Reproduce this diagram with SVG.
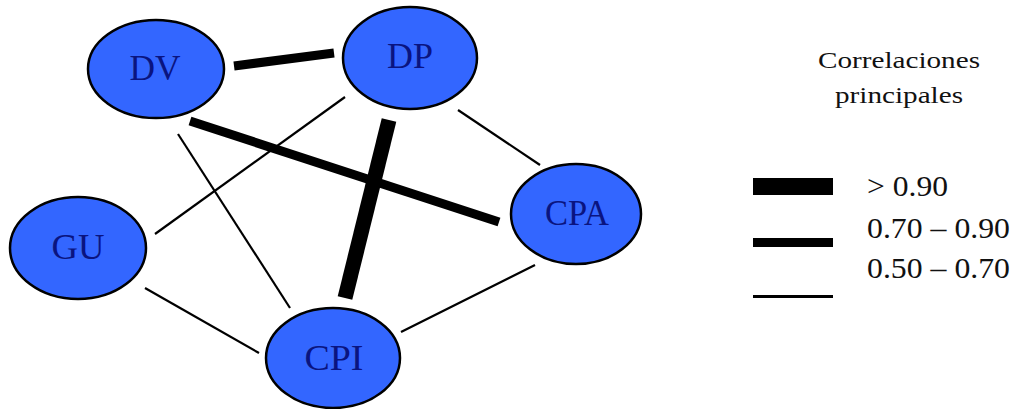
<svg xmlns="http://www.w3.org/2000/svg" width="1016" height="409" viewBox="0 0 1016 409">
<style>
.node ellipse{fill:#3366FF;stroke:#000;stroke-width:2.5}
.node text{font-family:"Liberation Serif","DejaVu Serif",serif;font-size:35px;fill:#0A1480;text-anchor:middle}
.c{stroke:#000;fill:none}
.thin{stroke-width:2.2}
.med{stroke-width:9}
.thick{stroke-width:15}
.lg{font-family:"Liberation Serif","DejaVu Serif",serif;fill:#111}
</style>
<rect width="1016" height="409" fill="#fff"/>
<g id="connectors">
<line class="c med" x1="234" y1="66" x2="334" y2="53"/>
<line class="c med" x1="190" y1="121" x2="499" y2="222"/>
<line class="c thick" x1="389" y1="120" x2="345" y2="298"/>
<line class="c thin" x1="345" y1="97" x2="155" y2="234"/>
<line class="c thin" x1="178" y1="134" x2="290" y2="308"/>
<line class="c thin" x1="458" y1="110" x2="540" y2="165"/>
<line class="c thin" x1="145" y1="288" x2="259" y2="353"/>
<line class="c thin" x1="535" y1="265" x2="401" y2="332"/>
</g>
<g id="DV" class="node"><ellipse cx="156" cy="69" rx="68" ry="49"/><text x="155" y="80" textLength="51" lengthAdjust="spacingAndGlyphs">DV</text></g>
<g id="DP" class="node"><ellipse cx="410" cy="58" rx="67" ry="51"/><text x="410" y="68" textLength="46" lengthAdjust="spacingAndGlyphs">DP</text></g>
<g id="GU" class="node"><ellipse cx="78" cy="248" rx="68" ry="51"/><text x="78" y="259" textLength="53" lengthAdjust="spacingAndGlyphs">GU</text></g>
<g id="CPA" class="node"><ellipse cx="576" cy="214" rx="65" ry="50"/><text x="577" y="225" textLength="64" lengthAdjust="spacingAndGlyphs">CPA</text></g>
<g id="CPI" class="node"><ellipse cx="333" cy="358" rx="67" ry="50"/><text x="334" y="370" textLength="59" lengthAdjust="spacingAndGlyphs">CPI</text></g>
<g id="legend">
<text class="lg" x="818" y="68" font-size="24" textLength="162" lengthAdjust="spacingAndGlyphs">Correlaciones</text>
<text class="lg" x="835" y="103" font-size="24" textLength="128" lengthAdjust="spacingAndGlyphs">principales</text>
<rect x="753" y="178" width="80" height="17" fill="#000"/>
<rect x="753" y="238" width="80" height="9" fill="#000"/>
<rect x="753" y="295" width="80" height="3" fill="#000"/>
<text class="lg" x="867" y="196" font-size="29" textLength="81" lengthAdjust="spacingAndGlyphs">&gt; 0.90</text>
<text class="lg" x="867" y="238" font-size="29" textLength="143" lengthAdjust="spacingAndGlyphs">0.70 – 0.90</text>
<text class="lg" x="867" y="278" font-size="29" textLength="143" lengthAdjust="spacingAndGlyphs">0.50 – 0.70</text>
</g>
</svg>
